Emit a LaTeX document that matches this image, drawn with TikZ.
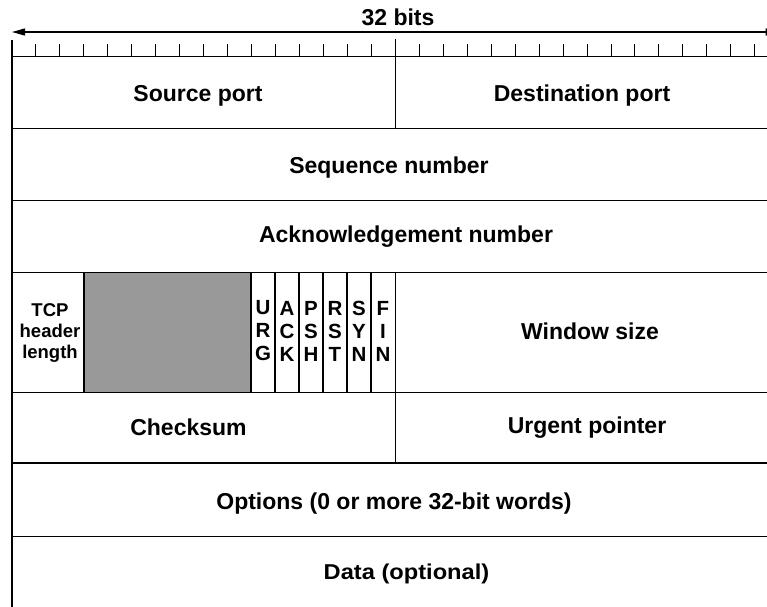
\documentclass[tikz,border=0pt]{standalone}
\usepackage{fontspec}
\setmainfont{Liberation Sans}
\newfontfamily\datafont{Liberation Sans}[FakeStretch=1.1]
\usetikzlibrary{arrows.meta}
\definecolor{reserved}{RGB}{153,153,153}
\begin{document}
\begin{tikzpicture}[x=1pt,y=-1pt,
  rule/.style={line width=1.3pt, black},
  tick/.style={line width=1pt, black},
  lbl/.style={font=\fontsize{23}{26}\selectfont\bfseries, inner sep=0pt, anchor=base},
  hdr/.style={font=\fontsize{18.5}{21.3}\selectfont\bfseries, inner sep=0pt, align=center},
  flag/.style={font=\fontsize{20.5}{23}\selectfont\bfseries, inner sep=0pt, align=center},
  datalbl/.style={font=\fontsize{21.5}{26}\datafont\bfseries, inner sep=0pt, anchor=base}]
\useasboundingbox (0,0) rectangle (767,606);
\clip (0,0) rectangle (767,606);
\def\L{12}
\def\M{395.3}
\def\R{778.7}
% reserved field
\fill[reserved] (84,272.3) rectangle (251,392.3);
% horizontal row lines
\foreach \y in {56.5,128.3,200.3,272.3,392.3,463,536.3}
  \draw[rule] (\L,\y) -- (\R,\y);
% left border and long ticks
\draw[rule] (\L,40) -- (\L,612);
\draw[rule] (\M,39) -- (\M,128.3);
\draw[rule] (\M,392.3) -- (\M,463);
% flag row dividers
\foreach \x in {84,251,275,299,323,347,371,\M}
  \draw[rule] (\x,272.3) -- (\x,392.3);
% short ticks
\foreach \i in {1,...,15,17,18,...,31}{
  \pgfmathsetmacro\tx{12+\i*23.96}
  \draw[tick] (\tx,43.5) -- (\tx,56.5);
}
% ruler arrow
\coordinate (rl) at (\L,32);
\coordinate (rr) at (\R,32);
\draw[line width=1.3pt, {Triangle[length=13pt,width=7pt]}-{Triangle[length=13pt,width=7pt]}] (rl) -- (rr);
\node[lbl] (bits) at (398,25) {32 bits};
% labels
\node[lbl] (src) at (198,101) {Source port};
\node[lbl] (dst) at (582,101) {Destination port};
\node[lbl] (seq) at (389,173) {Sequence number};
\node[lbl] (ack) at (406,242.5) {Acknowledgement number};
\node[hdr] (hlen) at (50,333) {TCP\\header\\length};
\node[flag] (furg) at (263,331) {U\\R\\G};
\node[flag] (fack) at (287,331) {A\\C\\K};
\node[flag] (fpsh) at (311,331) {P\\S\\H};
\node[flag] (frst) at (335,331) {R\\S\\T};
\node[flag] (fsyn) at (359,331) {S\\Y\\N};
\node[flag] (ffin) at (383,331) {F\\I\\N};
\node[lbl] (win) at (590,339) {Window size};
\node[lbl] (chk) at (188.5,435) {Checksum};
\node[lbl] (urg) at (587,433) {Urgent pointer};
\node[lbl] (opt) at (394,509.5) {Options (0 or more 32-bit words)};
\node[datalbl] (data) at (406.5,579) {Data (optional)};
\end{tikzpicture}
\end{document}
